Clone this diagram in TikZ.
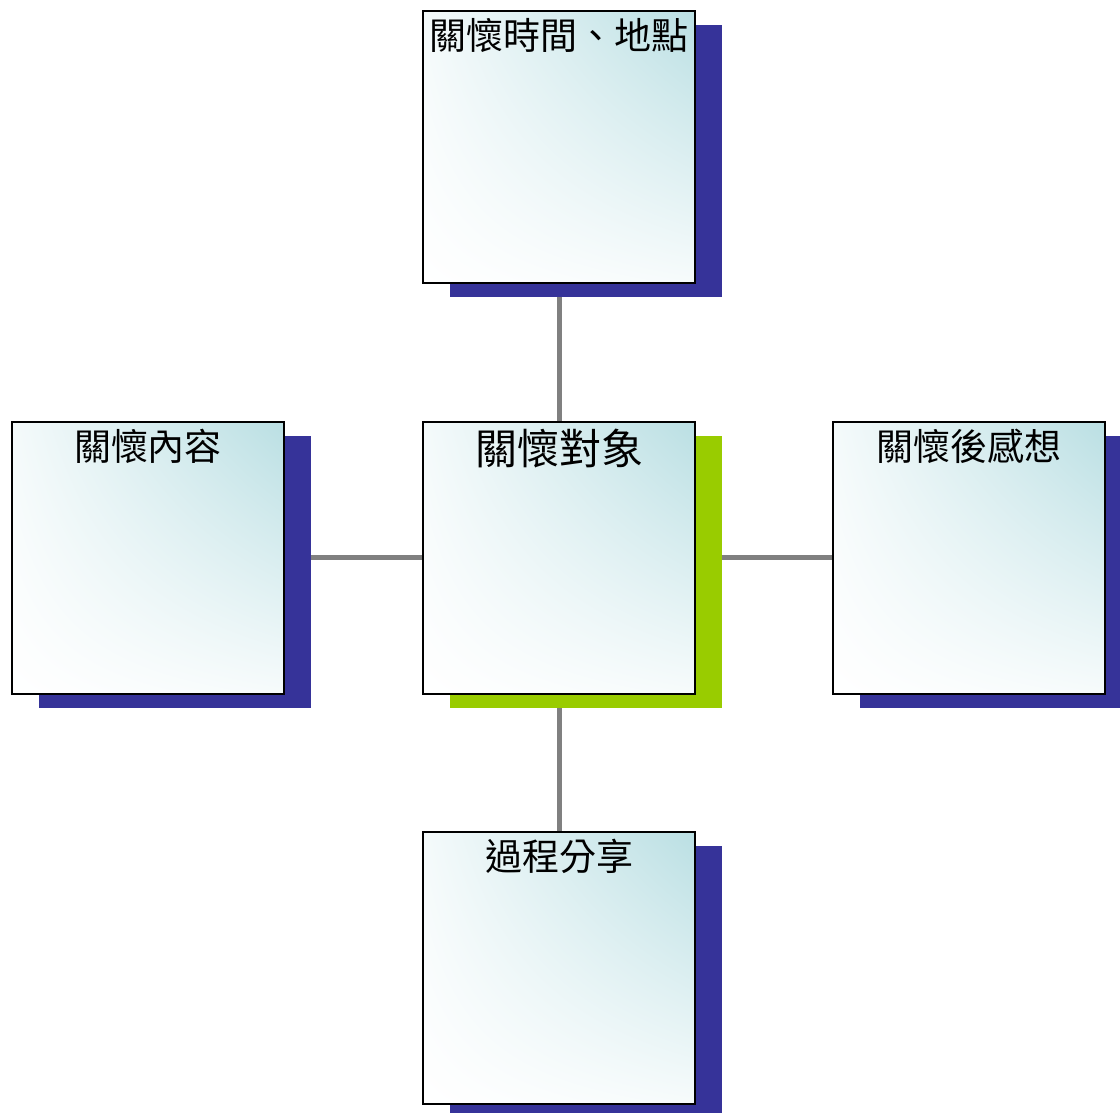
\documentclass[tikz,border=0pt]{standalone}
\usepackage{fontspec}
\setmainfont{Noto Sans CJK TC}
\usetikzlibrary{positioning,shadows,shadings,backgrounds}
\definecolor{cardcyan}{RGB}{186,223,227}
\definecolor{shadowblue}{RGB}{54,51,153}
\definecolor{shadowgreen}{RGB}{153,204,0}
\definecolor{linkgray}{RGB}{128,128,128}
\tikzset{
  card/.style    = {draw=black, line width=2pt, minimum size=272pt, inner sep=0pt,
                    upper right=cardcyan, upper left=cardcyan!15!white,
                    lower right=cardcyan!12!white, lower left=white,
                    drop shadow={shadow xshift=27pt, shadow yshift=-14pt,
                                 fill=#1, opacity=1}},
  card/.default  = shadowblue,
  cardtxt/.style = {font=\fontsize{37}{40}\selectfont, inner sep=0pt},
  hubtxt/.style  = {cardtxt, font=\fontsize{42}{46}\selectfont},
  link/.style    = {draw=linkgray, line width=5pt}
}

\begin{document}
\begin{tikzpicture}[x=1pt, y=1pt]
\useasboundingbox (0,0) rectangle (1120,1113);
\clip (0,0) rectangle (1120,1113);
\node[card=shadowgreen] (target) at (559,555) {};
\node[card] (when)    at (559,966) {};
\node[card] (content) at (148,555) {};
\node[card] (thought) at (969,555) {};
\node[card] (share)   at (559,145) {};

\node[hubtxt, below=8pt of target.north]   (targettxt)  {關懷對象};
\node[cardtxt, below=8pt of when.north]    (whentxt)    {關懷時間、地點};
\node[cardtxt, below=8pt of content.north] (contenttxt) {關懷內容};
\node[cardtxt, below=8pt of thought.north] (thoughttxt) {關懷後感想};
\node[cardtxt, below=8pt of share.north]   (sharetxt)   {過程分享};

\begin{scope}[on background layer]
\draw[link] (target.center) -- (when.center);
\draw[link] (target.center) -- (share.center);
\draw[link] (target.center) -- (content.center);
\draw[link] (target.center) -- (thought.center);
\end{scope}
\end{tikzpicture}
\end{document}
